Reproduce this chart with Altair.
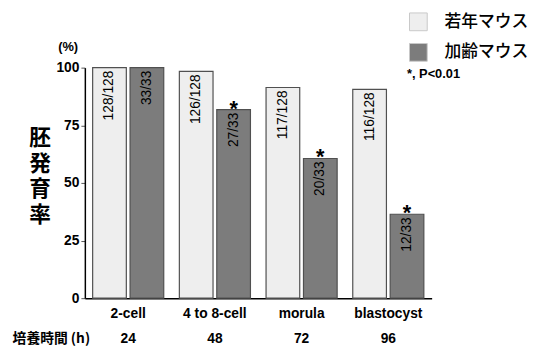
import altair as alt
import pandas as pd

stages = ["2-cell", "4 to 8-cell", "morula", "blastocyst"]
hours = ["24", "48", "72", "96"]
groups = ["若年マウス", "加齢マウス"]
young_pct = [100, 98.4, 91.4, 90.6]
aged_pct = [100, 81.8, 60.6, 36.4]
young_counts = ["128/128", "126/128", "117/128", "116/128"]
aged_counts = ["33/33", "27/33", "20/33", "12/33"]
aged_sig = ["", "*", "*", "*"]

rows = []
for i, s in enumerate(stages):
    rows.append({"stage": s, "group": groups[0], "pct": young_pct[i],
                 "count": young_counts[i], "sig": ""})
    rows.append({"stage": s, "group": groups[1], "pct": aged_pct[i],
                 "count": aged_counts[i], "sig": aged_sig[i]})
df = pd.DataFrame(rows)
hours_df = pd.DataFrame({"stage": stages, "hours": hours})

LATIN = "Liberation Sans"
CJK = "Noto Sans CJK JP"

x_enc = alt.X("stage:N", sort=stages,
              scale=alt.Scale(paddingInner=0.18, paddingOuter=0.09),
              axis=alt.Axis(title=None, labelAngle=0, labelFont=LATIN,
                            labelFontSize=14, labelFontWeight="bold",
                            labelColor="black", ticks=False, tickSize=0,
                            labelPadding=9, domainColor="black",
                            domainWidth=1.5))
xo_enc = alt.XOffset("group:N", sort=groups, scale=alt.Scale(paddingInner=0.1))
y_enc = alt.Y("pct:Q", scale=alt.Scale(domain=[0, 100]),
              axis=alt.Axis(values=[0, 25, 50, 75, 100], grid=False,
                            title=["胚", "発", "育", "率"], titleAngle=0,
                            titleFont=CJK, titleFontSize=22,
                            titleFontWeight="bold", titleLineHeight=26,
                            titleX=-46, titleY=61, titleAlign="center",
                            titleBaseline="top", titleColor="black",
                            labelFont=LATIN, labelFontSize=14,
                            labelFontWeight="bold", labelColor="black",
                            tickSize=4, tickColor="#555", labelPadding=2,
                            domainColor="black", domainWidth=1.5))

bars = alt.Chart(df).mark_bar(stroke="#505050", strokeWidth=1.2).encode(
    x=x_enc, xOffset=xo_enc, y=y_enc,
    color=alt.Color("group:N", sort=groups,
                    scale=alt.Scale(domain=groups, range=["#eeeeee", "#7c7c7c"]),
                    legend=alt.Legend(orient="none", legendX=329, legendY=-56,
                                      title=None, labelFont=CJK,
                                      labelFontSize=17, labelFontWeight=500,
                                      labelColor="black",
                                      symbolType="square", symbolSize=324,
                                      symbolStrokeColor="#c8c8c8",
                                      symbolStrokeWidth=1, rowPadding=8,
                                      labelOffset=17, padding=0,
                                      labelLimit=200)),
)

counts = alt.Chart(df).mark_text(angle=270, align="right", baseline="middle",
                                 dx=-3, font=LATIN, fontSize=14,
                                 color="black").encode(
    x=alt.X("stage:N", sort=stages), xOffset=alt.XOffset("group:N", sort=groups),
    y="pct:Q", text="count:N")

stars = alt.Chart(df).mark_text(align="center", baseline="alphabetic", dy=6,
                                font=LATIN, fontSize=22, fontWeight="bold",
                                color="black").encode(
    x=alt.X("stage:N", sort=stages), xOffset=alt.XOffset("group:N", sort=groups),
    y="pct:Q", text="sig:N")

hrs = alt.Chart(hours_df).mark_text(align="center", baseline="middle",
                                    font=LATIN, fontSize=14, fontWeight="bold",
                                    color="black").encode(
    x=alt.X("stage:N", sort=stages), y=alt.value(275), text="hours:N")

pct_lbl = alt.Chart(pd.DataFrame({"t": ["(%)"]})).mark_text(
    align="center", baseline="middle", font=LATIN, fontSize=13,
    fontWeight="bold", color="black").encode(
    x=alt.value(-17), y=alt.value(-21), text="t:N")

p_lbl = alt.Chart(pd.DataFrame({"t": ["*, P<0.01"]})).mark_text(
    align="left", baseline="middle", font=LATIN, fontSize=13,
    fontWeight="bold", color="black").encode(
    x=alt.value(327), y=alt.value(7), text="t:N")

h_lbl = alt.Chart(pd.DataFrame({"t": ["培養時間 (h)"]})).mark_text(
    align="center", baseline="middle", font=CJK, fontSize=14,
    fontWeight="bold", color="black").encode(
    x=alt.value(-34), y=alt.value(275), text="t:N")

chart = alt.layer(bars, counts, stars, hrs, pct_lbl, p_lbl, h_lbl).properties(
    width=352, height=234,
    autosize=alt.AutoSizeParams(type="none"),
    padding={"left": 78, "top": 58, "right": 112, "bottom": 47},
    background="white",
).configure_view(stroke=None)

chart.save("out.html", embed_options={"renderer": "svg", "actions": False})
